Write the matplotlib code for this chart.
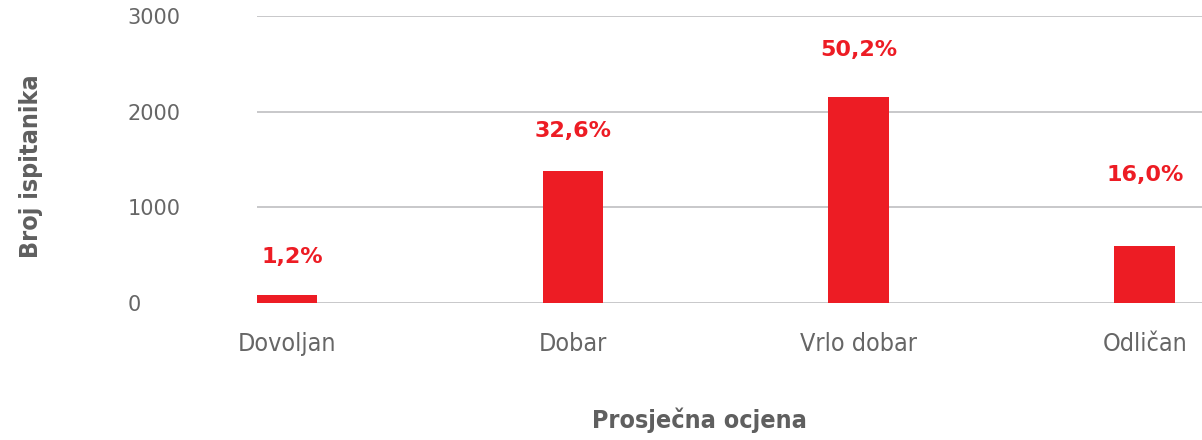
import matplotlib
matplotlib.use("Agg")
import matplotlib.pyplot as plt
from matplotlib import font_manager as fm
from matplotlib.transforms import ScaledTranslation

categories = ["Dovoljan", "Dobar", "Vrlo dobar", "Odličan"]
counts = [87, 1381, 2154, 598]
pct_labels = ["1,2%", "32,6%", "50,2%", "16,0%"]
yticks = [0, 1000, 2000, 3000]

RED = "#ED1C24"
GRAY = "#666666"

names = sorted({f.name for f in fm.fontManager.ttflist})
narrow = "Liberation Sans Narrow" if "Liberation Sans Narrow" in names else "DejaVu Sans"

fig = plt.figure(figsize=(12.02, 4.4), dpi=100)
ax = fig.add_axes([257/1202, 1-303/440, 1-257/1202, (303-16)/440])

x = list(range(len(categories)))
bars = ax.bar(x, counts, width=0.213, color=RED, zorder=3)
ax.set_xlim(-0.105, 3.2)
ax.set_ylim(0, 3000)
ax.set_yticks(yticks)
ax.set_yticklabels([str(v) for v in yticks], fontsize=15, color=GRAY, family="DejaVu Sans")
shift = ScaledTranslation(0, -5/100, fig.dpi_scale_trans)
for lab in ax.get_yticklabels():
    lab.set_horizontalalignment("left")
    lab.set_transform(lab.get_transform() + shift)
ax.tick_params(axis="y", length=0, pad=93)
ax.set_xticks(x)
ax.set_xticklabels(categories, fontsize=18, color=GRAY, family=narrow, stretch="condensed")
ax.tick_params(axis="x", length=0, pad=21)
ax.grid(axis="y", color="#c8c8ca", linewidth=1.4, zorder=0)
for s in ax.spines.values():
    s.set_visible(False)

offsets = [27, 29, 34, 51]
for b, lab, off in zip(bars, pct_labels, offsets):
    ax.annotate(lab, (b.get_x() + b.get_width()/2, b.get_height()),
                xytext=(4 if off == 27 else 0, off), textcoords="offset points",
                ha="center", va="center", color=RED, fontsize=16,
                fontweight="bold", family="DejaVu Sans")

fig.text(699/1202, 1-420/440, "Prosječna ocjena", ha="center", va="center",
         fontsize=18, fontweight="bold", color="#5f5f5f", family=narrow, stretch="condensed")
fig.text(31/1202, 1-166/440, "Broj ispitanika", ha="center", va="center",
         rotation=90, fontsize=18, fontweight="bold", color="#5f5f5f", family=narrow, stretch="condensed")

fig.savefig("out.png", dpi=100)
